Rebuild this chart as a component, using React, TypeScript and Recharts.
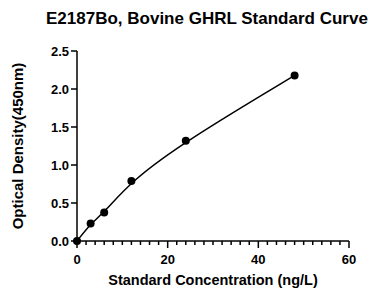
import { LineChart, Line, XAxis, YAxis, Label } from 'recharts';

// standard curve readings
const concentration = [0, 3, 6, 12, 24, 48];
const opticalDensity = [0, 0.229, 0.375, 0.79, 1.318, 2.178];

const xMajorTicks = [0, 20, 40, 60];
const xAllTicks = [0, 2, 4, 6, 8, 10, 12, 14, 16, 18, 20, 22, 24, 26, 28, 30, 32, 34, 36, 38, 40, 42, 44, 46, 48, 50, 52, 54, 56, 58, 60];
const yTicks = [0, 0.5, 1, 1.5, 2, 2.5];

const FONT = 'Liberation Sans, Arial, sans-serif';

function XTick(props: any) {
  const { x, y, payload } = props;
  const major = xMajorTicks.includes(payload.value);
  return (
    <g>
      <line x1={x} x2={x} y1={y} y2={y + (major ? 7 : 4)} stroke="#000" strokeWidth={1.5} />
      {major && (
        <text x={x} y={y + 23} textAnchor="middle" fontFamily={FONT} fontWeight="bold" fontSize={13} fill="#000">
          {payload.value}
        </text>
      )}
    </g>
  );
}

export default function App() {
  const data = concentration.map((c, i) => ({ conc: c, od: opticalDensity[i] }));

  return (
    <div style={{ position: 'absolute', left: 0, top: 0, width: 382, height: 289, background: '#fff' }}>
      <div
        style={{
          position: 'absolute',
          left: 0,
          top: 9,
          width: 382,
          paddingLeft: 46,
          boxSizing: 'border-box',
          fontFamily: FONT,
          fontWeight: 'bold',
          fontSize: 17,
          lineHeight: '20px',
          color: '#000',
          whiteSpace: 'nowrap',
        }}
      >
        E2187Bo, Bovine GHRL Standard Curve
      </div>
      <LineChart width={382} height={289} data={data} margin={{ top: 51, right: 33, bottom: 0, left: 0 }}>
        <XAxis
          dataKey="conc"
          type="number"
          domain={[0, 60]}
          ticks={xAllTicks}
          interval={0}
          height={48}
          stroke="#000"
          strokeWidth={1.5}
          tickLine={false}
          tickSize={0}
          tickMargin={0}
          tick={<XTick />}
        >
          <Label
            content={({ viewBox }: any) => (
              <text
                x={viewBox.x + viewBox.width / 2}
                y={viewBox.y + 44}
                textAnchor="middle"
                fontFamily={FONT}
                fontWeight="bold"
                fontSize={14.5}
                fill="#000"
              >
                Standard Concentration (ng/L)
              </text>
            )}
          />
        </XAxis>
        <YAxis
          type="number"
          domain={[0, 2.5]}
          ticks={yTicks}
          interval={0}
          width={77}
          stroke="#000"
          strokeWidth={1.5}
          tickSize={6}
          tickMargin={2}
          tickFormatter={(v: number) => v.toFixed(1)}
          tick={{ fill: '#000', fontFamily: FONT, fontWeight: 'bold', fontSize: 13 }}
        >
          <Label
            content={({ viewBox }: any) => {
              const cx = 17;
              const cy = viewBox.y + viewBox.height / 2;
              return (
                <text
                  x={cx}
                  y={cy}
                  transform={`rotate(-90 ${cx} ${cy})`}
                  textAnchor="middle"
                  dominantBaseline="central"
                  fontFamily={FONT}
                  fontWeight="bold"
                  fontSize={15}
                  fill="#000"
                >
                  Optical Density(450nm)
                </text>
              );
            }}
          />
        </YAxis>
        {/* smoothed curve, points drawn on the raw readings */}
        <Line
          type="basis"
          dataKey="od"
          stroke="#000"
          strokeWidth={1.5}
          dot={{ r: 4, fill: '#000', stroke: '#000', strokeWidth: 0 }}
          activeDot={false}
          isAnimationActive={false}
        />
      </LineChart>
    </div>
  );
}
